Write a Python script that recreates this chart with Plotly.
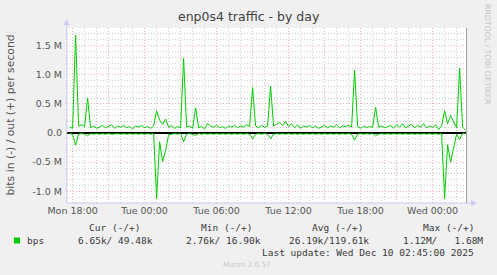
import plotly.graph_objects as go
import pandas as pd

# ---- data (15-minute samples, values in Mbit/s) ----
start_time = "2025-12-08 17:45"
step = "15min"

out_mbps = [
    0.10, 0.08, 1.68, 0.12, 0.14, 0.11, 0.60, 0.09, 0.12, 0.08,
    0.10, 0.13, 0.09, 0.11, 0.14, 0.08, 0.12, 0.10, 0.13, 0.09,
    0.11, 0.07, 0.12, 0.10, 0.13, 0.09, 0.11, 0.08, 0.12, 0.38,
    0.22, 0.15, 0.24, 0.10, 0.13, 0.08, 0.11, 0.09, 1.28, 0.10,
    0.12, 0.08, 0.43, 0.09, 0.11, 0.07, 0.16, 0.12, 0.10, 0.13,
    0.09, 0.11, 0.08, 0.12, 0.10, 0.13, 0.09, 0.12, 0.10, 0.14,
    0.11, 0.78, 0.12, 0.09, 0.13, 0.10, 0.12, 0.80, 0.12, 0.15,
    0.18, 0.13, 0.20, 0.11, 0.16, 0.09, 0.14, 0.08, 0.12, 0.10,
    0.13, 0.09, 0.12, 0.08, 0.11, 0.13, 0.09, 0.12, 0.10, 0.14,
    0.09, 0.12, 0.11, 0.13, 0.10, 1.08, 0.11, 0.08, 0.12, 0.09,
    0.11, 0.10, 0.44, 0.10, 0.12, 0.09, 0.11, 0.13, 0.08, 0.14,
    0.10, 0.16, 0.09, 0.12, 0.15, 0.09, 0.13, 0.10, 0.16, 0.09,
    0.12, 0.10, 0.14, 0.06, 0.12, 0.38, 0.16, 0.30, 0.20, 0.09,
    1.11, 0.10, 0.05,
]

in_mbps = [
    0.01, 0.02, 0.21, 0.02, 0.01, 0.02, 0.05, 0.01, 0.02, 0.01,
    0.02, 0.01, 0.02, 0.01, 0.02, 0.01, 0.01, 0.02, 0.01, 0.02,
    0.01, 0.02, 0.01, 0.02, 0.01, 0.02, 0.01, 0.02, 0.01, 1.12,
    0.15, 0.49, 0.30, 0.03, 0.02, 0.01, 0.02, 0.01, 0.15, 0.02,
    0.01, 0.02, 0.04, 0.01, 0.02, 0.01, 0.02, 0.01, 0.02, 0.01,
    0.02, 0.01, 0.02, 0.01, 0.02, 0.01, 0.02, 0.01, 0.02, 0.01,
    0.02, 0.10, 0.02, 0.01, 0.02, 0.01, 0.02, 0.10, 0.02, 0.01,
    0.02, 0.01, 0.02, 0.01, 0.02, 0.01, 0.02, 0.01, 0.02, 0.01,
    0.02, 0.01, 0.02, 0.01, 0.02, 0.01, 0.02, 0.01, 0.02, 0.01,
    0.02, 0.01, 0.02, 0.01, 0.02, 0.12, 0.02, 0.01, 0.02, 0.01,
    0.02, 0.01, 0.05, 0.02, 0.01, 0.02, 0.01, 0.02, 0.01, 0.02,
    0.01, 0.02, 0.01, 0.02, 0.01, 0.02, 0.01, 0.02, 0.01, 0.02,
    0.01, 0.02, 0.01, 0.02, 0.01, 1.12, 0.20, 0.50, 0.25, 0.02,
    0.11, 0.01, 0.0066,
]

x_range = ["2025-12-08 17:32", "2025-12-10 02:52"]
x_tick_vals = ["2025-12-08 18:00", "2025-12-08 21:00", "2025-12-09 00:00",
               "2025-12-09 03:00", "2025-12-09 06:00", "2025-12-09 09:00",
               "2025-12-09 12:00", "2025-12-09 15:00", "2025-12-09 18:00",
               "2025-12-09 21:00", "2025-12-10 00:00"]
x_tick_text = ["Mon 18:00", "", "Tue 00:00", "", "Tue 06:00", "",
               "Tue 12:00", "", "Tue 18:00", "", "Wed 00:00"]
y_tick_vals = [-1.0e6, -0.5e6, 0, 0.5e6, 1.0e6, 1.5e6]
y_tick_text = ["-1.0 M", "-0.5 M", "0.0", "0.5 M", "1.0 M", "1.5 M"]

legend_headers = ["Cur (-/+)", "Min (-/+)", "Avg (-/+)", "Max (-/+)"]
legend_values = ["6.65k/ 49.48k", "2.76k/ 16.90k", "26.19k/119.61k", "1.12M/   1.68M"]

# ---- figure ----
times = pd.date_range(start_time, periods=len(out_mbps), freq=step)
out_bps = [v * 1e6 for v in out_mbps]
in_bps = [-v * 1e6 for v in in_mbps]

GREEN = "#00CC00"
fig = go.Figure()
fig.add_trace(go.Scatter(x=times, y=in_bps, mode="lines",
                         line=dict(color=GREEN, width=1), showlegend=False))
fig.add_trace(go.Scatter(x=times, y=out_bps, mode="lines",
                         line=dict(color=GREEN, width=1), showlegend=False))

L, R, T, B = 67, 30, 28, 72
W, H = 497, 275
PW, PH = W - L - R, H - T - B


def px(xp):
    return (xp - L) / PW


def py(yp):
    return (H - B - yp) / PH


mono = "DejaVu Sans Mono"
sans = "DejaVu Sans"
TXT = "#3a3a3a"
DOT = "1px,2px"
MAJ = "#F0B0B0"
MIN = "#CFCFCF"

fig.update_layout(
    width=W, height=H,
    margin=dict(l=L, r=R, t=T, b=B),
    paper_bgcolor="#F0F0F0",
    plot_bgcolor="#FFFFFF",
    showlegend=False,
    font=dict(family=sans, size=9.5, color="#555555"),
)

fig.update_xaxes(
    type="date", range=x_range,
    tickvals=x_tick_vals, ticktext=x_tick_text,
    showgrid=True, gridcolor=MAJ, griddash=DOT, gridwidth=1,
    minor=dict(dtick=3600000, showgrid=True, gridcolor=MIN,
               griddash=DOT, gridwidth=1),
    showline=False, zeroline=False, ticks="",
    tickfont=dict(family=sans, size=9.5, color="#555555"),
)
fig.update_yaxes(
    range=[-1.2e6, 1.8e6],
    tickvals=y_tick_vals, ticktext=y_tick_text,
    showgrid=True, gridcolor=MAJ, griddash=DOT, gridwidth=1,
    minor=dict(tick0=0, dtick=100000, showgrid=True, gridcolor=MIN,
               griddash=DOT, gridwidth=1),
    zeroline=True, zerolinecolor="#000000", zerolinewidth=2,
    showline=False, ticks="", ticklabelstandoff=4,
    tickfont=dict(family=sans, size=9.5, color="#555555"),
)

AX = "#C8CCEE"
shapes = [
    # left axis line with arrow
    dict(type="line", xref="paper", yref="paper", x0=px(66.7), x1=px(66.7),
         y0=py(203), y1=py(24), line=dict(color=AX, width=1), layer="above"),
    dict(type="path", xref="paper", yref="paper",
         path=f"M {px(63.5)} {py(25)} L {px(69.5)} {py(25)} L {px(66.5)} {py(19)} Z",
         fillcolor=AX, line=dict(width=0), layer="above"),
    # bottom axis line with arrow
    dict(type="line", xref="paper", yref="paper", x0=px(66.7), x1=px(472),
         y0=py(203), y1=py(203), line=dict(color=AX, width=1), layer="above"),
    dict(type="path", xref="paper", yref="paper",
         path=f"M {px(471)} {py(200)} L {px(471)} {py(206)} L {px(477)} {py(203)} Z",
         fillcolor=AX, line=dict(width=0), layer="above"),
    # right frame line
    dict(type="line", xref="paper", yref="paper", x0=px(466.5), x1=px(466.5),
         y0=py(203), y1=py(28), line=dict(color="#A0A0A0", width=1), layer="above"),
    # legend colour square
    dict(type="rect", xref="paper", yref="paper", x0=px(14), x1=px(20),
         y0=py(243.5), y1=py(237.5), fillcolor=GREEN, line=dict(width=0)),
]
fig.update_layout(shapes=shapes)

ann = []


def text(s, x, y, size, family, color, xanchor="left", angle=0, yanchor="middle"):
    ann.append(dict(text=s, x=px(x), y=py(y), xref="paper", yref="paper",
                    xanchor=xanchor, yanchor=yanchor, showarrow=False,
                    textangle=angle, borderpad=0, borderwidth=0,
                    font=dict(family=family, size=size, color=color)))


text("enp0s4 traffic - by day", 248.5, 17, 12.5, sans, "#404040", xanchor="center")
text("bits in (-) / out (+) per second", 10, 115.5, 10.8, sans, "#555555",
     xanchor="center", angle=-90)
text("RRDTOOL / TOBI OETIKER", 488, 54, 7.8, sans, "#C4C4C4",
     xanchor="center", angle=90)

header_x = [89.3, 201, 312.3, 422.7]
value_x = [78.3, 185.7, 289.3, 403.3]
for h, xx in zip(legend_headers, header_x):
    text(h, xx, 227, 9.5, mono, TXT)
text("bps", 26.7, 240, 9.5, mono, TXT)
for v, xx in zip(legend_values, value_x):
    text(v, xx, 240, 9.5, mono, TXT)
text("Last update: Wed Dec 10 02:45:00 2025", 261.7, 252.3, 9.5, mono, TXT)
text("Munin 2.0.57", 223.3, 264, 7.3, sans, "#C8C8C8")

fig.update_layout(annotations=ann)
fig.write_html("out.html")
